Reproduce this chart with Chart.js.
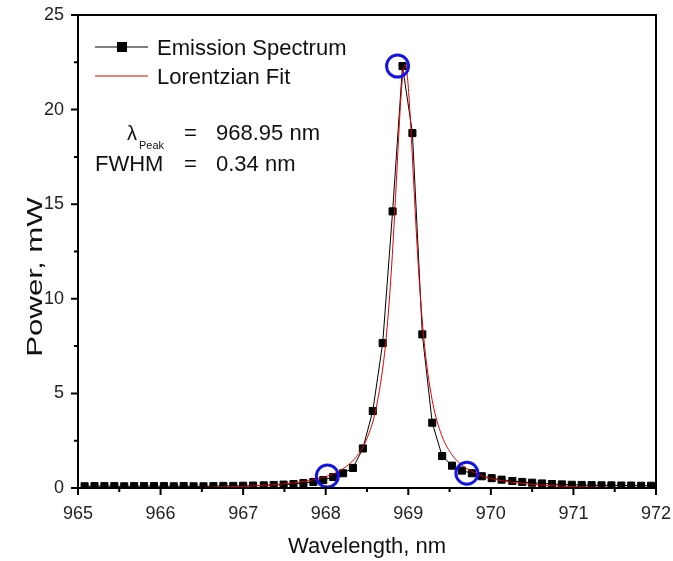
<!DOCTYPE html>
<html>
<head>
<meta charset="utf-8">
<title>Emission Spectrum</title>
<script src="https://cdn.jsdelivr.net/npm/chart.js@4.4.1/dist/chart.umd.min.js"></script>
<style>
  html, body { margin: 0; padding: 0; background: #fff; }
</style>
</head>
<body>
<canvas id="spectrum" width="673" height="561"></canvas>
<script>
// measured emission spectrum (nm, mW)
const wavelength = [
  965.08, 965.20, 965.32, 965.44, 965.56, 965.68, 965.80, 965.92, 966.04, 966.16,
  966.28, 966.40, 966.52, 966.64, 966.76, 966.88, 967.00, 967.12, 967.25, 967.37,
  967.49, 967.61, 967.73, 967.85, 967.97, 968.09, 968.21, 968.33, 968.45, 968.57,
  968.69, 968.81, 968.93, 969.05, 969.17, 969.29, 969.41, 969.53, 969.65, 969.77,
  969.89, 970.01, 970.13, 970.26, 970.38, 970.50, 970.62, 970.74, 970.86, 970.98,
  971.10, 971.22, 971.34, 971.46, 971.58, 971.70, 971.82, 971.94
];
const power = [
  0.09, 0.10, 0.10, 0.10, 0.09, 0.10, 0.10, 0.10, 0.10, 0.09,
  0.10, 0.09, 0.09, 0.10, 0.11, 0.11, 0.12, 0.13, 0.14, 0.16,
  0.18, 0.21, 0.26, 0.32, 0.42, 0.58, 0.78, 1.06, 2.09, 4.07,
  7.66, 14.62, 22.30, 18.76, 8.12, 3.45, 1.69, 1.18, 0.92, 0.78,
  0.62, 0.52, 0.44, 0.37, 0.32, 0.28, 0.24, 0.21, 0.19, 0.17,
  0.16, 0.15, 0.14, 0.14, 0.13, 0.13, 0.12, 0.12
];

// Lorentzian fit curve
const fitWavelength = [
  966.2, 966.6, 967.0, 967.4, 967.8, 968.0, 968.2, 968.4, 968.5, 968.6,
  968.7, 968.75, 968.8, 968.85, 968.9, 968.93, 968.96, 968.99, 969.02, 969.07,
  969.12, 969.17, 969.22, 969.3, 969.4, 969.5, 969.6, 969.7, 969.9, 970.1,
  970.4, 970.8, 971.2, 971.75
];
const fitPower = [
  0.01, 0.04, 0.09, 0.18, 0.39, 0.60, 0.99, 1.81, 2.62, 4.01,
  6.64, 8.81, 11.83, 15.74, 19.88, 21.69, 22.37, 21.69, 19.88, 15.74,
  11.83, 8.81, 6.64, 4.41, 2.84, 1.94, 1.40, 1.05, 0.63, 0.41,
  0.23, 0.11, 0.05, 0.01
];

// circled points: peak and the two tail markers
const markWavelength = [968.87, 968.02, 969.71];
const markPower = [22.30, 0.63, 0.78];

const xTickLabels = ['965', '966', '967', '968', '969', '970', '971', '972'];
const xMinorTicks = [965.5, 966.5, 967.5, 968.5, 969.5, 970.5, 971.5];
const yTickLabels = ['0', '5', '10', '15', '20', '25'];
const yMinorTicks = [2.5, 7.5, 12.5, 17.5, 22.5];

const FONT = 'Liberation Sans, Arial, sans-serif';

const toPoints = (xs, ys) => xs.map((v, i) => ({ x: v, y: ys[i] }));

// frame, outward ticks, legend, peak annotation and the y title
const decorations = {
  id: 'decorations',
  afterDatasetsDraw(chart) {
    const { ctx, chartArea: a, scales: { x, y } } = chart;
    ctx.save();
    ctx.strokeStyle = '#000';
    ctx.lineWidth = 2;
    ctx.strokeRect(a.left, a.top, a.right - a.left, a.bottom - a.top);

    ctx.beginPath();
    xTickLabels.forEach(t => {
      const px = x.getPixelForValue(Number(t));
      ctx.moveTo(px, a.bottom); ctx.lineTo(px, a.bottom + 7);
    });
    xMinorTicks.forEach(v => {
      const px = x.getPixelForValue(v);
      ctx.moveTo(px, a.bottom); ctx.lineTo(px, a.bottom + 4);
    });
    yTickLabels.forEach(t => {
      const py = y.getPixelForValue(Number(t));
      ctx.moveTo(a.left, py); ctx.lineTo(a.left - 7, py);
    });
    yMinorTicks.forEach(v => {
      const py = y.getPixelForValue(v);
      ctx.moveTo(a.left, py); ctx.lineTo(a.left - 4, py);
    });
    ctx.stroke();

    // legend
    ctx.lineWidth = 1;
    ctx.beginPath();
    ctx.moveTo(95, 47); ctx.lineTo(148, 47);
    ctx.stroke();
    ctx.fillStyle = '#000';
    ctx.fillRect(117, 42, 10, 10);
    ctx.strokeStyle = '#e00000';
    ctx.beginPath();
    ctx.moveTo(95, 76); ctx.lineTo(148, 76);
    ctx.stroke();

    ctx.fillStyle = '#111';
    ctx.textBaseline = 'alphabetic';
    ctx.textAlign = 'left';
    ctx.font = '22px ' + FONT;
    ctx.fillText('Emission Spectrum', 157, 54.5);
    ctx.fillText('Lorentzian Fit', 157, 83.5);

    // peak wavelength and FWHM
    ctx.font = '20px ' + FONT;
    ctx.fillText('λ', 127, 140);
    ctx.font = '11px ' + FONT;
    ctx.fillText('Peak', 139, 149);
    ctx.font = '22px ' + FONT;
    ctx.fillText('=', 184, 139.5);
    ctx.fillText('968.95 nm', 216, 139.5);
    ctx.fillText('FWHM', 95, 170.5);
    ctx.fillText('=', 184, 170.5);
    ctx.fillText('0.34 nm', 216, 170.5);

    // y axis title, drawn stretched along its length
    ctx.translate(42, 277);
    ctx.rotate(-Math.PI / 2);
    ctx.scale(1.42, 1);
    ctx.textAlign = 'center';
    ctx.fillText('Power, mW', 0, 0);
    ctx.restore();
  }
};

new Chart(document.getElementById('spectrum'), {
  type: 'line',
  data: {
    datasets: [
      {
        label: 'Marked points',
        data: toPoints(markWavelength, markPower),
        showLine: false,
        pointStyle: 'circle',
        pointRadius: 11,
        pointBorderWidth: 3,
        pointBorderColor: '#1414e6',
        pointBackgroundColor: 'rgba(0,0,0,0)',
        clip: false,
        order: 0
      },
      {
        label: 'Lorentzian Fit',
        data: toPoints(fitWavelength, fitPower),
        borderColor: '#e00000',
        borderWidth: 1,
        pointRadius: 0,
        cubicInterpolationMode: 'monotone',
        order: 1
      },
      {
        label: 'Emission Spectrum',
        data: toPoints(wavelength, power),
        borderColor: '#000',
        borderWidth: 1,
        pointStyle: 'rect',
        pointRadius: 5,
        pointBorderWidth: 1,
        pointBackgroundColor: '#000',
        pointBorderColor: '#000',
        order: 2
      }
    ]
  },
  options: {
    responsive: false,
    animation: false,
    devicePixelRatio: 1,
    layout: { padding: { top: 15, right: 17, left: 0, bottom: 0 } },
    plugins: { legend: { display: false }, tooltip: { enabled: false } },
    scales: {
      x: {
        type: 'linear',
        min: 965,
        max: 972,
        afterFit: s => { s.height = 73; s.paddingLeft = 0; s.paddingRight = 0; },
        grid: { display: false, drawTicks: false },
        border: { display: false },
        ticks: {
          stepSize: 1,
          padding: 15,
          color: '#222',
          font: { family: FONT, size: 18 },
          callback: v => xTickLabels.includes(String(v)) ? String(v) : ''
        },
        title: {
          display: true,
          text: 'Wavelength, nm',
          color: '#111',
          font: { family: FONT, size: 22 },
          padding: { top: 0, bottom: 1 }
        }
      },
      y: {
        type: 'linear',
        min: 0,
        max: 25,
        afterFit: s => { s.width = 78; s.paddingTop = 0; s.paddingBottom = 0; },
        grid: { display: false, drawTicks: false },
        border: { display: false },
        ticks: {
          stepSize: 5,
          padding: 14,
          color: '#222',
          font: { family: FONT, size: 18 },
          callback: v => yTickLabels.includes(String(v)) ? String(v) : ''
        },
        title: { display: false }
      }
    }
  },
  plugins: [decorations]
});
</script>
</body>
</html>
